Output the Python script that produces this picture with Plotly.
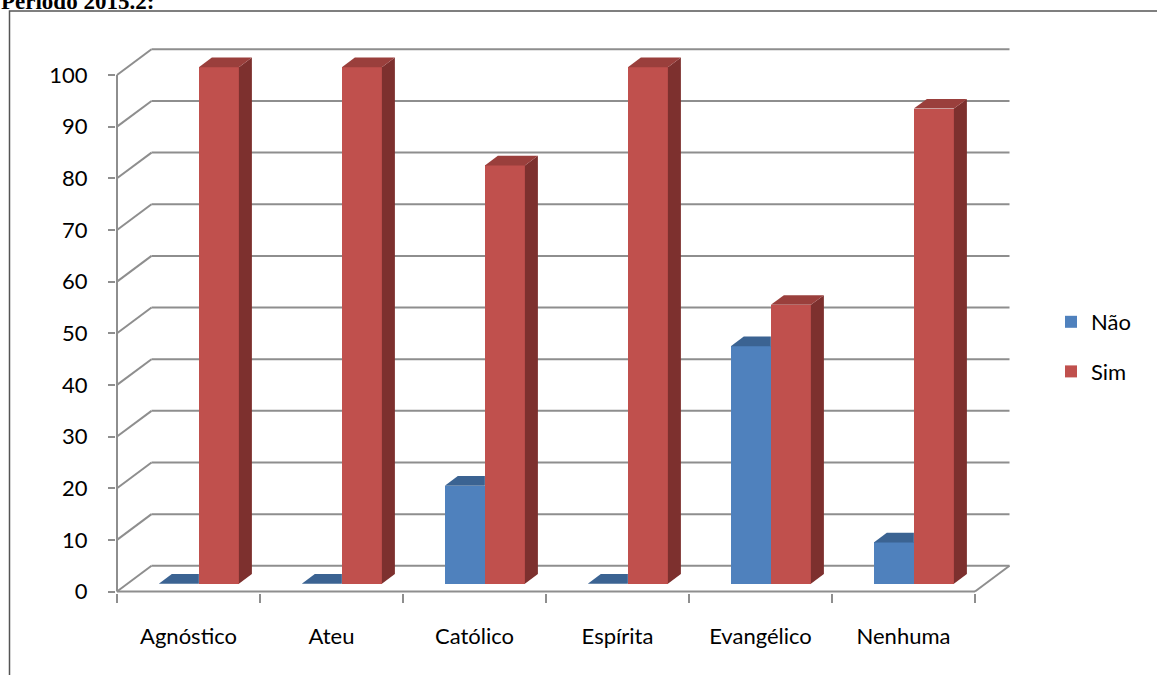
import plotly.graph_objects as go

# Respostas por religião (%)
categories = ["Agnóstico", "Ateu", "Católico", "Espírita", "Evangélico", "Nenhuma"]
nao = [0, 0, 19, 0, 46, 8]
sim = [100, 100, 81, 100, 54, 92]
y_ticks = list(range(0, 101, 10))
title_text = "Período 2015.2:"

# Pseudo-3D geometry, in axis units (x: categories, y: values)
DEPTH_X = 0.2413   # horizontal depth of the floor / back wall
DEPTH_Y = 4.98     # vertical depth of the floor / back wall
FRONT = 0.30       # bar front plane, as a fraction of the depth
THICK = 0.377      # bar thickness, as a fraction of the depth
BAR_W = 0.28       # width of each bar

C_NAO = "#4F81BD"
C_NAO_TOP = "#3B6392"
C_SIM = "#C0504D"
C_SIM_TOP = "#9A3F3C"
C_SIM_SIDE = "#7D302E"
GRID = "#8E8E8E"
FONT = "Lato"

# Pixel layout of the plotting area
W, H = 1157, 675
ML, MR, MT, MB = 116, 144, 40, 82
PX_CAT = 143.0
PX_UNIT = 5.165
plot_w = W - ML - MR
plot_h = H - MT - MB
x0 = -1.0 / PX_CAT
y0 = -1.5 / PX_UNIT
x_range = [x0, x0 + plot_w / PX_CAT]
y_range = [y0, y0 + plot_h / PX_UNIT]

n = len(categories)
fx, fy = FRONT * DEPTH_X, FRONT * DEPTH_Y
bdx, bdy = THICK * DEPTH_X, THICK * DEPTH_Y
centers = [i + 0.5 for i in range(n)]
bar_x = [c + fx for c in centers]

fig = go.Figure()

# front faces
fig.add_trace(go.Bar(
    x=bar_x, y=nao, base=fy, width=BAR_W, offset=-BAR_W,
    marker=dict(color=C_NAO, line=dict(width=0)),
    name="Não", legendgroup="nao",
))
fig.add_trace(go.Bar(
    x=bar_x, y=sim, base=fy, width=BAR_W, offset=0,
    marker=dict(color=C_SIM, line=dict(width=0)),
    name="Sim", legendgroup="sim",
))


def face(xs, ys, color):
    fig.add_trace(go.Scatter(
        x=xs + [xs[0]], y=ys + [ys[0]], mode="lines", fill="toself",
        fillcolor=color, line=dict(width=0, color=color),
        hoverinfo="skip", showlegend=False,
    ))


for i in range(n):
    # "Não" bar: top face, its right part hidden behind the "Sim" bar
    xl, xr = bar_x[i] - BAR_W, bar_x[i]
    top = fy + nao[i]
    face([xl, xr, xr, xl + bdx], [top, top, top + bdy, top + bdy], C_NAO_TOP)
    # "Sim" bar: side and top faces
    xl, xr = bar_x[i], bar_x[i] + BAR_W
    top = fy + sim[i]
    face([xr, xr, xr + bdx, xr + bdx], [fy, top, top + bdy, fy + bdy], C_SIM_SIDE)
    face([xl, xr, xr + bdx, xl + bdx], [top, top, top + bdy, top + bdy], C_SIM_TOP)

# back wall gridlines with their diagonal returns, floor and front axis
shapes = []
line = dict(color=GRID, width=2)
x_end = float(n)
for v in y_ticks:
    shapes.append(dict(type="line", xref="x", yref="y", x0=0, y0=v,
                       x1=DEPTH_X, y1=v + DEPTH_Y, line=line, layer="below"))
    shapes.append(dict(type="line", xref="x", yref="y", x0=DEPTH_X, y0=v + DEPTH_Y,
                       x1=x_end + DEPTH_X, y1=v + DEPTH_Y, line=line, layer="below"))
shapes.append(dict(type="line", xref="x", yref="y", x0=0, y0=0, x1=x_end, y1=0,
                   line=line, layer="below"))
shapes.append(dict(type="line", xref="x", yref="y", x0=x_end, y0=0,
                   x1=x_end + DEPTH_X, y1=DEPTH_Y, line=line, layer="below"))
shapes.append(dict(type="line", xref="x", yref="y", x0=0, y0=0, x1=0, y1=y_ticks[-1],
                   line=line, layer="below"))


def paper_x(px):
    return (px - ML) / plot_w


def paper_y(py):
    return (H - MB - py) / plot_h


# outer chart frame
shapes.append(dict(type="rect", xref="paper", yref="paper",
                   x0=paper_x(9.5), y0=paper_y(H + 20), x1=paper_x(W + 20), y1=paper_y(11),
                   line=dict(color="#555555", width=1.5), layer="above"))

fig.update_layout(
    width=W, height=H,
    margin=dict(l=ML, r=MR, t=MT, b=MB, pad=0),
    paper_bgcolor="white", plot_bgcolor="white",
    barmode="overlay",
    bargap=0,
    shapes=shapes,
    font=dict(family=FONT, size=22, color="black"),
    showlegend=True,
    legend=dict(
        xref="container", yref="container",
        x=1051 / W, y=1 - 301 / H, xanchor="left", yanchor="top",
        font=dict(family=FONT, size=22, color="black"),
        tracegroupgap=18, bgcolor="rgba(0,0,0,0)",
    ),
    annotations=[dict(
        text="<b>" + title_text + "</b>", xref="paper", yref="paper",
        x=paper_x(-1), y=paper_y(16), xanchor="left", yanchor="bottom",
        showarrow=False, font=dict(family="Liberation Serif", size=23, color="black"),
    )],
)

fig.update_xaxes(
    range=x_range, showgrid=False, zeroline=False, showline=False,
    tickvals=centers, ticktext=categories, ticks="outside", ticklen=0,
    ticklabelstandoff=24, tickfont=dict(family=FONT, size=22, color="black"),
    minor=dict(tickvals=[float(i) for i in range(n + 1)], ticks="outside",
               ticklen=9, tickcolor=GRID, tickwidth=2, showgrid=False),
)
fig.update_yaxes(
    range=y_range, showgrid=False, zeroline=False, showline=False,
    tickvals=y_ticks, ticks="outside", ticklen=7, tickcolor=GRID, tickwidth=2,
    ticklabelstandoff=16, tickfont=dict(family=FONT, size=22, color="black"),
)

fig.write_html("out.html")
